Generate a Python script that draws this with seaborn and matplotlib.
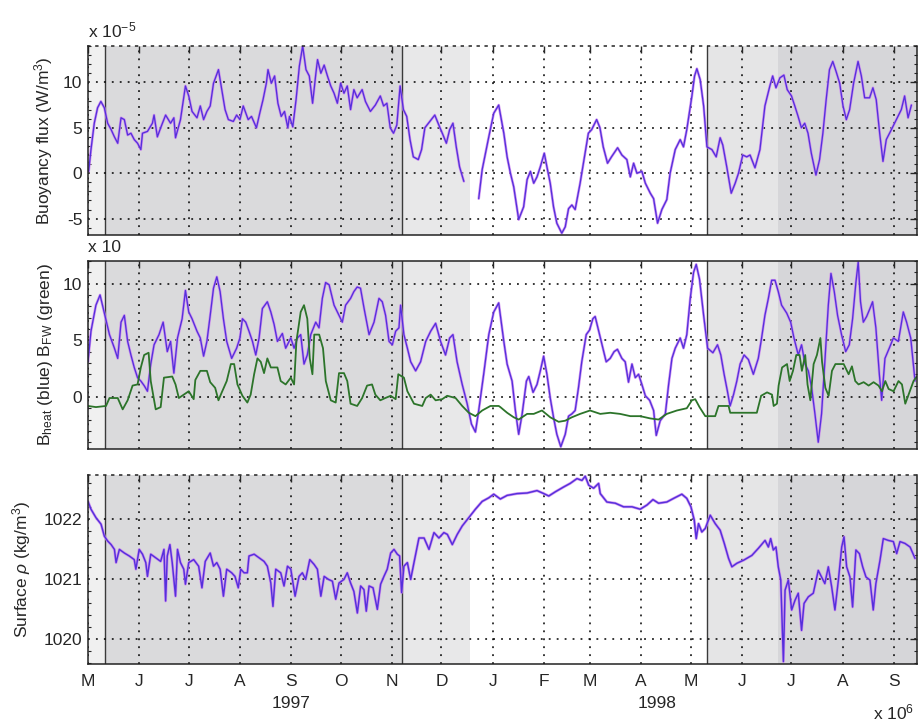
import numpy as np
import pandas as pd
import matplotlib
matplotlib.use("Agg")
import matplotlib.pyplot as plt
import seaborn as sns

# ---------------- data (days since 1997-05-01) ----------------
month_labels = ["M", "J", "J", "A", "S", "O", "N", "D",
                "J", "F", "M", "A", "M", "J", "J", "A", "S"]
year_labels = ["1997", "1998"]

# Buoyancy flux (x 1e-5 W/m^3), two segments (data gap in late Dec 1997)
flux_day_a = [0.4, 1.8, 3.8, 5.8, 7.8, 9.9, 11.9, 14, 16, 18, 20, 22, 24, 26, 28, 30, 32, 33, 36, 39,
              40, 42, 44, 47, 50, 52, 53, 56, 59, 61, 63, 66, 68, 70, 72, 74, 76, 79, 81, 83,
              85, 88, 90, 92, 94, 97, 99, 102, 104, 106, 108, 109, 111, 113, 115, 117, 119, 121, 122, 124,
              126, 128, 130, 132, 134, 136, 138, 139, 141, 143, 145, 147, 149, 151, 153, 155, 157, 159, 161, 163,
              166, 168, 171, 174, 177, 179, 181, 183, 185, 187, 189, 191, 193, 195, 197, 200, 202, 204, 207, 210,
              212, 215, 217, 219, 221, 223, 225, 227.6]
flux_a = [0.2, 2.6, 5.5, 7.2, 7.9, 7.2, 5.5, 4.8, 4.0, 3.3, 6.1, 5.9, 4.2, 4.4, 3.7, 3.3, 2.6, 4.4, 4.6, 5.5,
          6.4, 4.0, 5.0, 6.4, 5.5, 6.1, 3.9, 5.9, 9.6, 8.5, 6.8, 6.1, 7.4, 5.9, 6.8, 7.4, 9.9, 11.4, 9.2, 7.0,
          5.9, 5.7, 6.4, 5.9, 7.4, 5.9, 6.25, 5.0, 6.6, 8.1, 9.9, 11.4, 9.9, 10.7, 7.7, 6.25, 6.8, 5.0, 6.25, 5.1,
          8.1, 11.8, 14.0, 11.4, 10.7, 7.7, 11.0, 12.5, 11.0, 11.9, 10.7, 9.6, 8.8, 7.7, 9.9, 8.8, 9.6, 7.0, 9.2, 8.3,
          9.2, 7.9, 6.8, 7.5, 8.5, 7.4, 7.7, 5.0, 4.4, 5.3, 9.6, 7.0, 6.25, 3.7, 1.8, 1.5, 2.6, 5.0, 5.7, 6.4,
          5.5, 4.2, 3.3, 4.8, 5.5, 2.9, 0.7, -0.9]
flux_day_b = [236.6, 238.7, 240.7, 242.7, 245.7, 248.7, 251.8, 253.8, 255.8, 257.8, 260.8, 263.8, 265.9, 267.9,
              269.9, 271.9, 273.9, 276.3, 277.9, 279.9, 281.9, 283.9, 286.9, 289, 291, 293, 295, 298, 301, 303,
              305, 308, 310, 312, 314.6, 317, 320.7, 323.3, 326.3, 328.4, 330.4, 332.4, 335.4, 337.5, 340.5,
              342.5, 344.9, 347.5, 350.5, 352.5, 355.6, 358.6, 360.6, 362.6, 365.7, 367.3, 368.7, 370.7, 372.8,
              374.8, 377.8, 380.4, 382.8, 384.4, 386.9, 389.5, 391.9, 393.9, 396.5, 398.9, 400.9, 403.9, 406.9,
              409.9, 412.9, 414.6, 416.6, 419, 421.4, 423.4, 426, 428, 430, 432, 434, 436, 438, 440.8, 443, 445,
              447, 449, 451, 453, 455.2, 457.2, 459.2, 461.2, 463.6, 466.3, 468.3, 470.3, 473.3, 475.3, 477.3,
              479.4, 481.4, 483.4, 486.5, 489.5, 492.5, 494.5, 496.6, 498.6]
flux_b = [-2.8, 0.4, 2.2, 4.0, 6.6, 7.5, 4.4, 1.8, 0.0, -1.5, -5.1, -3.7, -0.7, 0.2,
          -1.1, -0.4, 0.7, 2.2, 0.7, -1.1, -3.7, -5.5, -6.6, -5.9, -3.9, -3.5, -4.0, -1.1, 2.2, 4.4,
          4.8, 5.9, 5.0, 2.9, 1.1, 1.8, 2.8, 2.0, 1.5, -0.4, 1.1, 0.0, 0.2, -1.1, -2.2,
          -2.8, -5.5, -4.0, -2.9, 0.0, 2.6, 3.7, 2.9, 4.8, 8.5, 10.7, 11.5, 10.3, 7.4,
          2.9, 2.6, 1.8, 3.9, 3.1, 0.6, -2.2, -1.1, 0.0, 2.0, 1.8, 2.0, 0.6, 2.6,
          7.4, 9.6, 10.7, 9.4, 10.5, 10.8, 9.2, 8.5, 7.4, 6.25, 5.0, 5.5, 4.4, 2.2, -0.2, 1.5, 4.4,
          8.1, 11.4, 12.3, 11.2, 9.9, 7.4, 5.9, 7.0, 9.9, 12.3, 10.7, 8.3, 8.3, 9.4, 8.1,
          4.4, 1.3, 3.7, 4.8, 5.9, 7.0, 8.5, 6.1, 7.5]

# B_heat (blue) and B_FW (green), x 10
bheat_day = [0, 1.8, 4.8, 7.3, 9.9, 13, 16, 18, 20, 22, 24, 26, 28, 30, 32, 34, 36, 38, 40, 43,
             45.5, 48, 50, 52, 54.2, 57, 59, 61, 63, 66, 68, 70, 72, 74, 76, 78, 80, 82, 84, 87,
             90, 92, 93.5, 95.5, 97.5, 99.6, 101.6, 103.6, 105.6, 108.6, 110.7, 112.7, 114.7, 117.7, 119.7,
             122.8, 124.8, 126.8, 128.8, 130.8, 132.8, 134.9, 137.9, 139.9, 141.9, 143.9, 146, 149, 152, 154,
             156, 159, 161, 163, 165, 167.2, 170.2, 173.2, 176.2, 178.2, 180.2, 182.3, 184.3, 186.3, 188.3,
             189.3, 191.3, 193.4, 195.4, 198.4, 201.4, 204.5, 207.5, 210.5, 213.5, 216.5, 219, 221, 223.5,
             226.6, 229.6, 232.2, 234.6, 236.6, 239.6, 242.7, 245.7, 248.7,
             251.8, 253.8, 256.8, 258.8, 260.8, 262.9, 265.5, 266.9, 269.5, 271.9, 273.9, 275.9, 277.9,
             279.9, 281.9, 283.9, 286.3, 289, 291, 293, 295, 297, 299, 301.7, 303.7, 305.7, 307.1, 309.1,
             311.2, 313.8, 316.2, 318.6, 320.6, 323.3, 325.3, 327.3, 329.4, 331.4, 333.4, 335.4, 337.5,
             340.1, 342.5, 344.1, 346.5, 349.6, 351.6, 353.6, 355.6, 358.6, 360.6, 362.6, 364.7, 366.7,
             368.3, 370.3, 372.8, 375.2, 378.4, 381.2, 383.2, 385.2, 387.2, 388.8, 390.9, 392.9, 394.9,
             397.3, 399.9, 402.9, 405.9, 407.9, 409.9, 412, 414, 416, 418, 420, 423.1, 425.5, 427.5, 430.1,
             432.1, 434.2, 436.2, 438.2, 440.2, 442.2, 444.2, 446.2, 448.3, 449.9, 451.9, 453.9, 456.3,
             458.8, 461, 463, 465, 466.4, 467.8, 469.5, 471.5, 473.5, 475.1, 477.1, 479.2, 480.6, 482.6,
             485.2, 487.7, 490.7, 493.7, 495.7, 498.2, 500.8]
bheat = [3.1, 5.8, 8.1, 9.0, 7.4, 5.5, 4.3, 3.4, 6.6, 7.2, 4.9, 3.7, 2.6, 1.7, 1.4, 1.0, 0.5, 2.9, 4.6, 5.5,
         6.6, 4.0, 4.9, 2.1, 5.2, 6.9, 9.4, 7.5, 6.9, 5.8, 5.2, 3.6, 4.9, 7.2, 9.6, 10.6, 9.3, 6.9, 4.9, 3.4,
         4.3, 5.2, 6.9, 6.6, 5.8, 4.9, 3.7, 5.2, 7.8, 8.4, 7.5, 6.4, 4.9, 5.6, 4.3,
         5.2, 4.3, 5.2, 5.5, 2.9, 3.7, 5.5, 6.6, 6.1, 8.7, 10.1, 9.9, 8.1, 7.2, 6.6,
         8.1, 8.7, 9.3, 9.7, 9.6, 7.8, 5.5, 6.6, 8.7, 8.4, 7.2, 4.9, 4.6, 5.8, 6.1,
         8.1, 5.5, 4.3, 3.1, 2.3, 3.1, 4.9, 5.8, 6.5, 4.9, 3.7, 5.2, 5.5, 3.1,
         1.1, -0.6, -2.4, -3.1, -1.2, 2.0, 5.5, 7.5, 8.3,
         4.9, 2.9, 1.4, -1.2, -3.3, -1.5, 1.4, 1.8, 0.4, 1.1, 2.3, 3.6, 2.0,
         -0.1, -1.8, -3.3, -4.4, -3.3, -1.7, -1.5, -1.2, 0.8, 3.1, 5.5, 5.9, 6.9, 7.1, 5.9,
         4.6, 3.1, 3.4, 4.0, 4.2, 3.4, 3.1, 1.3, 2.9, 1.7, 2.0, 1.1, 0.1,
         -0.3, -1.2, -3.4, -2.1, -1.5, 1.1, 3.4, 4.3, 5.2, 4.3, 5.5, 8.7, 11.0,
         11.7, 10.4, 7.2, 4.3, 3.9, 4.6, 3.7, 2.0, 0.5, -0.8, 0.2, 1.4, 2.9,
         3.7, 3.3, 2.0, 3.4, 5.2, 7.2, 8.7, 10.3, 10.3, 9.3, 8.1, 7.4, 6.6, 5.2, 3.7,
         4.6, 2.9, 2.3, 0.8, -1.5, -4.0, -1.5, 3.1, 8.1, 10.9, 9.3, 7.2, 5.5,
         4.0, 4.6, 6.9, 10.1, 11.9, 8.4, 6.6, 7.1, 7.8, 8.4, 6.1, 2.0, -0.3, 3.4,
         4.3, 5.2, 4.9, 7.5, 6.6, 5.2, 1.4]

bfw_day = [0, 4.8, 10.9, 13, 18, 21, 24, 27, 30, 32, 34, 36.7, 38, 41, 44, 46, 51, 53, 55, 58,
           61, 64, 65, 68, 72, 74, 77, 79, 81, 84, 86.5, 88.5, 90.5, 93.5, 96.5, 98.5, 100.6, 102.6,
           104.6, 106.6, 108.6, 110.7, 114.7, 116.7, 119.7, 122.8, 124.8, 126.2, 128.8, 130.8, 132.8,
           134.3, 135.9, 137, 140, 142.3, 144, 147, 150, 152, 155, 157, 159, 163, 166, 169, 172, 174,
           177, 180, 183.3, 186.3, 187.9, 191.3, 193.4, 197.4, 202.4, 204.5, 207.5, 210.5, 214.5, 217.5,
           222.6, 226.6, 230.6, 234.6, 238.7, 243.7, 248.7,
           249.7, 253.8, 257.8, 260.8, 265.9, 269.9, 274.9, 279.9, 285, 289, 293, 298, 304, 310.2,
           316.2, 322.2, 328.4, 334.4, 340.5, 345.5, 350.5, 356.6, 362.6, 365.7, 367.7, 370.3, 373.8,
           379.8, 381.8, 387.9, 388.9, 397, 405, 407.6, 411.2, 414.2, 415.2, 417.2, 418.2, 420.3, 423.3,
           424.9, 426.9, 428.9, 430.9, 432.3, 434.3, 435.7, 437.4, 439.4, 441.4, 443.5, 444.5, 446.5,
           448.5, 450.5, 452.6, 457.6, 460.6, 462.6, 464.6, 466.6, 469.7, 472.7, 475.7, 478.7, 480.8,
           482.8, 484.8, 487.8, 490.8, 492.9, 494.9, 496.9, 499.9, 501.9]
bfw = [-0.8, -0.9, -0.8, -0.1, -0.1, -1.1, -0.3, 1.0, 1.1, 2.6, 3.7, 3.9, 1.4, -1.1, -0.9, 1.7, 1.8, 1.1, -0.1, 0.2,
       0.5, -0.2, 1.5, 2.3, 2.3, 1.3, 0.8, -0.3, 0.4, 1.4, 2.9, 2.9, 1.1, 0.1, -0.5, 0.2, 2.0, 3.4,
       3.1, 2.1, 3.4, 2.6, 2.6, 1.4, 1.1, 1.7, 1.1, 4.9, 7.5, 8.1, 6.9,
       3.4, 2.0, 5.5, 5.5, 4.3, 1.4, -0.3, -0.5, 2.1, 2.1, 1.4, -0.6, -0.8, -0.1, 1.0, 1.1, 0.2,
       -0.3, -0.1, 0.1, -0.2, 2.0, 1.7, 0.5, -0.6, -0.8, -0.1, 0.2, -0.3, -0.2, 0.1,
       -0.1, -0.8, -1.4, -1.7, -1.2, -0.8, -0.8,
       -0.9, -1.4, -1.8, -2.0, -1.5, -1.5, -1.2, -1.8, -2.2, -2.1, -1.8, -1.5, -1.2, -1.5,
       -1.4, -1.5, -1.7, -1.7, -1.9, -2.0, -1.5, -1.2, -1.0, -0.3, -0.2, -0.9, -1.7,
       -1.7, -0.8, -0.8, -1.4, -1.4, -1.4, 0.1, 0.4, 0.2, -0.8, -0.6, 1.0, 2.6, 2.9,
       1.4, 2.3, 3.7, 3.7, 2.3, 3.7, 1.1, -0.3, 2.9, 3.7, 5.2, 3.1, 0.8,
       0.1, 2.3, 2.9, 2.9, 2.0, 2.7, 1.4, 1.1, 1.3, 1.0, 1.3, 1.0, 0.5,
       1.4, 0.7, 0.5, 1.4, 1.1, -0.6, 0.2, 1.4, 1.8]

# Surface density (kg/m^3)
rho_day = [0, 1.8, 4.8, 7.9, 9.9, 11.9, 14, 16, 17, 19, 22, 25, 28, 29, 31, 33, 35, 36, 38, 41,
           44, 46, 47, 48, 49.6, 51, 53, 54.2, 56, 58, 59, 61, 64, 67, 69, 71, 74, 76, 78, 80,
           82, 84, 87, 89, 91, 92.5, 94.5, 96.5, 97.5, 100.6, 103.6, 106.6, 108.6, 110.7, 112, 113.7,
           116.7, 118.7, 120.8, 122.8, 125.4, 127.8, 129.8, 131.8, 134.3, 136.9, 138.9, 141, 143, 145.6,
           148, 150, 152, 155, 157, 159, 161, 163.1, 165.1, 167.1, 168.5, 170.2, 172.6, 175.2, 177.2,
           179.2, 181.2, 183.3, 185.3, 187.3, 188.7, 189.9, 191.3, 193.4, 195.4, 197.4, 200.4, 203.5,
           206.5, 209.5, 212.5, 215.5, 217.6, 220.6, 223.6, 226.6, 230.6, 234.6, 238.7, 242.7, 245.7,
           249.7, 253.8, 259.8, 265.9, 271.9, 276, 279, 283, 288, 292, 296.1, 299.1, 301.1, 303.2,
           306.2, 309.2, 310.2, 314.2, 319.3, 324.3, 329.4, 334.4, 338.5, 342.1, 345.5, 350.5, 354.6,
           359.6, 362.6, 365.1, 367.1, 368.3, 369.7, 371.7, 373.8, 376.8, 379.8, 382.8, 385.3, 387.9,
           389.9, 393, 397, 402, 406, 410, 412, 413.4, 415, 416.6, 418, 419.5, 421.1, 422.1, 424.1,
           426.1, 428.1, 430.1, 432.1, 433.6, 436.2, 439.2, 442.2, 444.2, 446.2, 448.3, 450.3, 452.3,
           454.4, 456.4, 457.8, 459.4, 461.4, 463, 465, 467.1, 469.1, 471.1, 473.5, 475.5, 477.1,
           479.6, 481.6, 484.6, 487.7, 489.7, 491.7, 494.7, 497.8, 500.8]
rho = [1022.29, 1022.16, 1022.02, 1021.91, 1021.71, 1021.63, 1021.57, 1021.49, 1021.27, 1021.49, 1021.43,
       1021.38, 1021.32, 1021.16, 1021.49, 1021.41, 1021.27, 1021.04, 1021.41, 1021.35,
       1021.29, 1021.49, 1020.63, 1021.38, 1021.57, 1021.27, 1020.71, 1021.49, 1021.27, 1021.16, 1020.91,
       1021.27, 1021.32, 1021.21, 1020.85, 1021.29, 1021.43, 1021.21, 1021.27, 1021.16,
       1020.71, 1021.16, 1021.10, 1021.04, 1020.85, 1021.16, 1021.10, 1021.10, 1021.38, 1021.41, 1021.35,
       1021.29, 1021.21, 1020.93, 1020.54, 1021.16,
       1021.10, 1020.88, 1021.21, 1021.16, 1020.71, 1021.04, 1021.10, 1020.99, 1021.32, 1021.24, 1021.16,
       1020.71, 1021.04, 1020.99,
       1020.96, 1020.66, 1020.93, 1020.99, 1021.10, 1020.93, 1020.79, 1020.43, 1020.88, 1020.82, 1020.46,
       1020.88, 1020.85, 1020.49, 1020.91,
       1021.04, 1021.16, 1021.43, 1021.49, 1021.41, 1021.38, 1020.77, 1021.21, 1021.27, 1020.99, 1021.27,
       1021.68, 1021.68,
       1021.49, 1021.77, 1021.68, 1021.77, 1021.74, 1021.57, 1021.74, 1021.88, 1022.02, 1022.16, 1022.29,
       1022.35, 1022.41,
       1022.33, 1022.39, 1022.42, 1022.43, 1022.47, 1022.42, 1022.38, 1022.45, 1022.53, 1022.59, 1022.67,
       1022.64, 1022.71, 1022.56,
       1022.51, 1022.59, 1022.42, 1022.28, 1022.26, 1022.20, 1022.20, 1022.16, 1022.23, 1022.32, 1022.26,
       1022.28, 1022.34,
       1022.41, 1022.34, 1022.20, 1021.98, 1021.67, 1021.92, 1021.78, 1021.84, 1022.06, 1021.92, 1021.81,
       1021.59, 1021.34,
       1021.20, 1021.26, 1021.31, 1021.39, 1021.51, 1021.64, 1021.53, 1021.67, 1021.48, 1021.53, 1021.20,
       1020.98, 1019.62, 1020.81, 1020.98,
       1020.48, 1020.64, 1020.76, 1020.14, 1020.59, 1020.70, 1020.76, 1021.14, 1021.03, 1020.92, 1021.20,
       1020.87, 1020.48,
       1020.98, 1021.53, 1021.70, 1021.20, 1021.03, 1020.53, 1021.48, 1021.42, 1021.20, 1021.03, 1020.98,
       1020.48, 1020.92,
       1021.31, 1021.67, 1021.64, 1021.62, 1021.42, 1021.62, 1021.59, 1021.53, 1021.34]

# ---------------- frames ----------------
base = pd.Timestamp("1997-05-01")
month_pos = (pd.date_range("1997-05-01", "1998-09-01", freq="MS") - base).days.values

flux_df = pd.concat([
    pd.DataFrame({"day": flux_day_a, "val": flux_a, "seg": 0}),
    pd.DataFrame({"day": flux_day_b, "val": flux_b, "seg": 1}),
], ignore_index=True)
bheat_df = pd.DataFrame({"day": bheat_day, "val": bheat})
bfw_df = pd.DataFrame({"day": bfw_day, "val": bfw})
rho_df = pd.DataFrame({"day": rho_day, "val": rho})

# ---------------- style ----------------
sns.set_style("white")
plt.rcParams["font.family"] = ["Liberation Sans", "DejaVu Sans"]
plt.rcParams["mathtext.fontset"] = "custom"
plt.rcParams["mathtext.rm"] = "Liberation Sans"
plt.rcParams["mathtext.it"] = "Liberation Sans:italic"
plt.rcParams["mathtext.bf"] = "Liberation Sans:bold"

FS = 12.5
HALO = "#cc84f0"
CORE = "#5530dc"
GREEN = "#2c742a"

W, H = 919, 726
fig = plt.figure(figsize=(W / 100, H / 100), dpi=100)

def axrect(top_px, bot_px, left_px=88, right_px=917):
    return [left_px / W, 1 - bot_px / H, (right_px - left_px) / W, (bot_px - top_px) / H]

ax1 = fig.add_axes(axrect(46, 235))
ax2 = fig.add_axes(axrect(261, 449))
ax3 = fig.add_axes(axrect(475, 664))

shade = [(0, 10.3, "#f0f0f0"), (10.3, 190, "#dadadc"), (190, 231.6, "#e8e8e9"),
         (375, 418, "#e5e5e6"), (418, 503, "#d6d6d9")]
dividers = [10.3, 190, 375]

for ax in (ax1, ax2, ax3):
    for a, b, c in shade:
        ax.axvspan(a, b, color=c, lw=0, zorder=0)
    for d in dividers:
        ax.axvline(d, color="#3a3a3a", lw=1.0, zorder=1)

# lines
sns.lineplot(data=flux_df, x="day", y="val", units="seg", estimator=None, ax=ax1,
             color=HALO, lw=1.9, alpha=0.85, zorder=3)
sns.lineplot(data=flux_df, x="day", y="val", units="seg", estimator=None, ax=ax1,
             color=CORE, lw=0.95, zorder=4)

sns.lineplot(data=bheat_df, x="day", y="val", ax=ax2, color=HALO, lw=1.9, alpha=0.85, zorder=3)
sns.lineplot(data=bheat_df, x="day", y="val", ax=ax2, color=CORE, lw=0.95, zorder=4)
sns.lineplot(data=bfw_df, x="day", y="val", ax=ax2, color=GREEN, lw=1.3, zorder=5)

sns.lineplot(data=rho_df, x="day", y="val", ax=ax3, color=HALO, lw=2.0, alpha=0.85, zorder=3)
sns.lineplot(data=rho_df, x="day", y="val", ax=ax3, color=CORE, lw=1.05, zorder=4)

# axes formatting
ylims = [(-6.8, 14.0), (-4.6, 12.0), (1019.58, 1022.73)]
yticks = [[-5, 0, 5, 10], [0, 5, 10], [1020, 1021, 1022]]
yminor = [1, 1, 0.2]
ylabels = [r"Buoyancy flux (W/m$^3$)",
           r"B$_{\mathrm{heat}}$ (blue) B$_{\mathrm{FW}}$ (green)",
           r"Surface $\rho$ (kg/m$^3$)"]
label_x = [-0.040, -0.040, -0.066]

for i, ax in enumerate((ax1, ax2, ax3)):
    ax.set_xlim(0, 502)
    ax.set_ylim(*ylims[i])
    ax.set_yticks(yticks[i])
    ax.set_yticklabels([str(t) for t in yticks[i]], fontsize=FS)
    ax.yaxis.set_minor_locator(matplotlib.ticker.MultipleLocator(yminor[i]))
    ax.set_xticks(month_pos)
    ax.set_xlabel("")
    ax.set_ylabel(ylabels[i], fontsize=FS)
    ax.yaxis.set_label_coords(label_x[i], 0.5)
    ax.grid(True, which="major", color="black", linestyle=(0, (1.2, 4.0)), lw=1.1, zorder=2)
    ax.tick_params(axis="both", which="major", direction="in", length=5, width=1,
                   top=True, right=True, pad=4)
    ax.tick_params(axis="y", which="minor", direction="in", length=2.5, width=0.8, left=True, right=True)
    for s in ax.spines.values():
        s.set_color("#222222")
        s.set_linewidth(1.1)
        s.set_zorder(6)
    ax.set_axisbelow(False)
    if i < 2:
        ax.set_xticklabels([])
    else:
        ax.set_xticklabels(month_labels, fontsize=FS)
        ax.tick_params(axis="x", pad=7)

ax1.spines["top"].set_linestyle((0, (1.2, 4.0)))
ax3.spines["top"].set_linestyle((0, (1.2, 4.0)))

# multiplier / year annotations
fig.text(88 / W, 1 - 37 / H, r"x 10$^{-5}$", fontsize=FS, va="baseline", ha="left")
fig.text(88 / W, 1 - 252 / H, "x 10", fontsize=FS, va="baseline", ha="left")
fig.text(873 / W, 1 - 719 / H, r"x 10$^{6}$", fontsize=FS, va="baseline", ha="left")
fig.text(291 / W, 1 - 703 / H, year_labels[0], fontsize=FS, va="center", ha="center")
fig.text(657 / W, 1 - 703 / H, year_labels[1], fontsize=FS, va="center", ha="center")

fig.savefig("out.png", dpi=100, facecolor="white")
